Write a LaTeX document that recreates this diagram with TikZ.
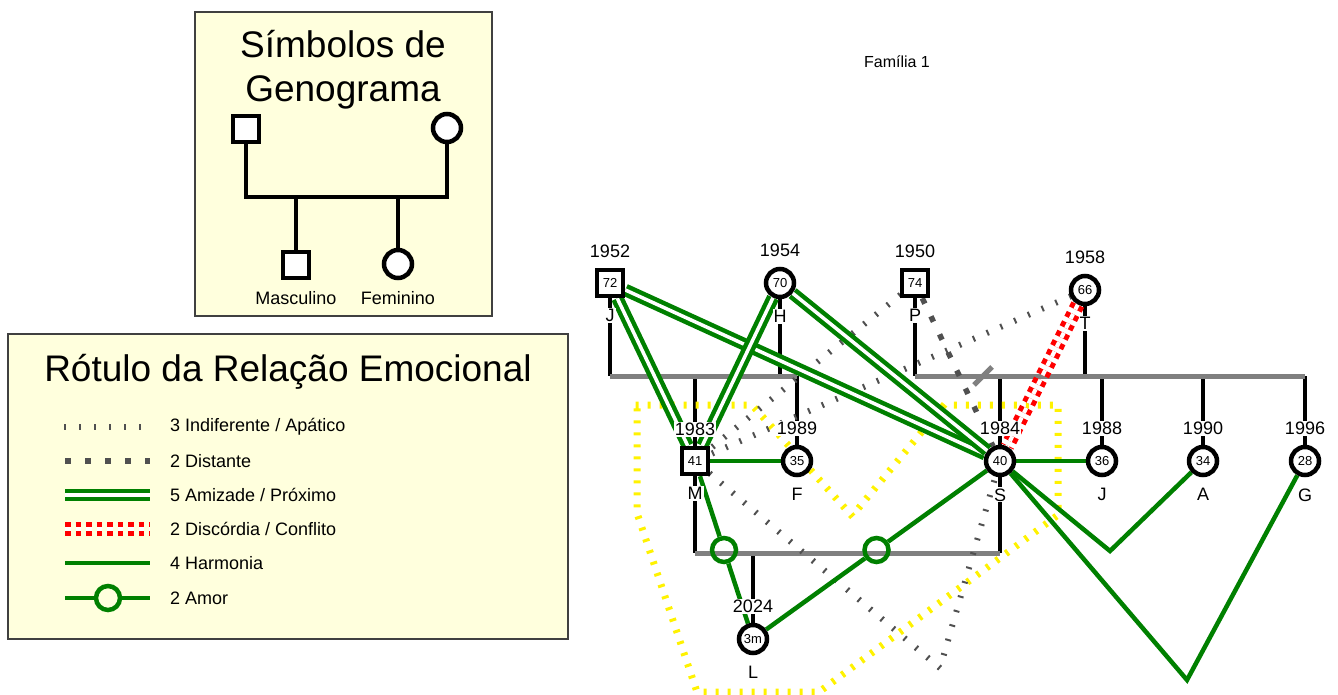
\documentclass[tikz,border=0pt]{standalone}
\usepackage{fontspec}
\setmainfont{Liberation Sans}
\usepackage{tikz}
\usetikzlibrary{positioning,calc,decorations.pathreplacing,backgrounds}

\definecolor{paper}{RGB}{255,255,221}
\definecolor{leaf}{RGB}{0,128,0}
\definecolor{ash}{RGB}{128,128,128}
\definecolor{slate}{RGB}{80,80,80}

\begin{document}
\begin{tikzpicture}[x=1pt, y=-1pt,
    man/.style={draw, line width=4.5pt, fill=white, minimum size=26pt, inner sep=0pt,
      font=\fontsize{13}{13}\selectfont},
    woman/.style={man, circle, minimum size=28pt},
    txt/.style={inner sep=1pt, font=\fontsize{18}{18}\selectfont},
    tag/.style={txt, fill=white},
    big/.style={font=\fontsize{37}{44}\selectfont, align=center},
    keytxt/.style={txt, anchor=west, inner sep=0pt},
    board/.style={draw=black!75, line width=1.5pt, fill=paper},
    kin/.style={line width=4.5pt},
    wed/.style={line width=5pt, draw=ash},
    harm/.style={line width=4.5pt, draw=leaf},
    close/.style={harm, double=white, double distance=3.5pt},
    ring/.style={circle, draw=leaf, line width=4.5pt, minimum size=24pt, inner sep=0pt},
    foe/.style={draw=red, line width=5pt, double=white, double distance=4pt,
      dash pattern=on 5.5pt off 5pt},
    far/.style={draw=slate, line width=5.5pt, dash pattern=on 6pt off 14pt},
    cold/.style={draw=slate, line width=2pt, decorate,
      decoration={ticks, segment length=15pt, amplitude=3pt}},
    home/.style={draw=yellow, line width=3pt, decorate,
      decoration={ticks, segment length=12pt, amplitude=3.5pt}},
  ]
  \useasboundingbox (0,0) rectangle (1338,695);

  % symbol key
  \draw[board] (195,12) rectangle (492,316);
  \node[big] (symtitle) at (343,70) {Símbolos de\\Genograma};
  \node[man] (kman) at (246,129) {};
  \node[woman] (kwoman) at (447,128) {};
  \node[man] (kson) at (296,265) {};
  \node[woman] (kdau) at (398,264) {};
  \coordinate (kbar) at (0,197);
  \draw[kin] (kman) -- (kman |- kbar) -| (kwoman);
  \draw[kin] (kson) -- (kson |- kbar);
  \draw[kin] (kdau) -- (kdau |- kbar);
  \node[txt] (kmasc) at (296,298) {Masculino};
  \node[txt] (kfem) at (398,298) {Feminino};

  % relation key
  \draw[board] (8,334) rectangle (568,639);
  \node[big] (keytitle) at (288,372) {Rótulo da Relação Emocional};
  \node[keytxt] (k1) at (170,427) {3 Indiferente / Apático};
  \node[keytxt] (k2) at (170,461) {2 Distante};
  \node[keytxt] (k3) at (170,495) {5 Amizade / Próximo};
  \node[keytxt] (k4) at (170,529) {2 Discórdia / Conflito};
  \node[keytxt] (k5) at (170,563) {4 Harmonia};
  \node[keytxt] (k6) at (170,598) {2 Amor};
  \node[ring] (kring) at (108,598) {};
  \draw[cold] ([xshift=-105pt]k1.west) -- ([xshift=-20pt]k1.west);
  \draw[far] ([xshift=-105pt]k2.west) -- ([xshift=-20pt]k2.west);
  \draw[close] ([xshift=-105pt]k3.west) -- ([xshift=-20pt]k3.west);
  \draw[foe] ([xshift=-105pt]k4.west) -- ([xshift=-20pt]k4.west);
  \draw[harm] ([xshift=-105pt]k5.west) -- ([xshift=-20pt]k5.west);
  \draw[harm] ([xshift=-105pt]k6.west) -- (kring) -- ([xshift=-20pt]k6.west);

  % family
  \node[txt, font=\fontsize{16}{16}\selectfont] (fam) at (897,62) {Família 1};

  \node[man] (j) at (610,283) {72};
  \node[woman] (h) at (780,283) {70};
  \node[man] (p) at (915,283) {74};
  \node[woman] (t) at (1085,290) {66};

  \node[man] (m) at (695,461) {41};
  \node[woman] (f) at (797,461) {35};
  \node[woman] (s) at (1000,461) {40};
  \node[woman] (jd) at (1102,461) {36};
  \node[woman] (a) at (1203,461) {34};
  \node[woman] (g) at (1305,461) {28};
  \node[woman] (l) at (753,639) {3m};

  \node[tag, above=9pt of j] (jyr) {1952};
  \node[tag, above=9pt of h] (hyr) {1954};
  \node[tag, above=9pt of p] (pyr) {1950};
  \node[tag, above=9pt of t] (tyr) {1958};
  \node[tag, above=9pt of m] (myr) {1983};
  \node[tag, above=9pt of f] (fyr) {1989};
  \node[tag, above=9pt of s] (syr) {1984};
  \node[tag, above=9pt of jd] (jdyr) {1988};
  \node[tag, above=9pt of a] (ayr) {1990};
  \node[tag, above=9pt of g] (gyr) {1996};
  \node[tag, above=9pt of l] (lyr) {2024};

  \node[tag, below=10pt of j] (jnm) {J};
  \node[tag, below=10pt of h] (hnm) {H};
  \node[tag, below=10pt of p] (pnm) {P};
  \node[tag, below=10pt of t] (tnm) {T};
  \node[tag, below=10pt of m] (mnm) {M};
  \node[tag, below=10pt of f] (fnm) {F};
  \node[tag, below=10pt of s] (snm) {S};
  \node[tag, below=10pt of jd] (jdnm) {J};
  \node[tag, below=10pt of a] (anm) {A};
  \node[tag, below=10pt of g] (gnm) {G};
  \node[tag, below=10pt of l] (lnm) {L};

  \node[ring] (mlring) at ($(m)!0.5!(l)$) {};
  \node[ring] (slring) at ($(s)!0.5!(l)$) {};

  \coordinate (row1) at (0,376);
  \coordinate (row2) at (0,553);
  \coordinate (split) at (983,376);
  \coordinate (sabend) at (1110,551);
  \coordinate (sgbend) at (1187,680);
  \coordinate (msbend) at (940,668);

  \begin{scope}[on background layer]
    \draw[kin] (j) -- (j |- row1);
    \draw[kin] (h) -- (h |- row1);
    \draw[kin] (p) -- (p |- row1);
    \draw[kin] (t) -- (t |- row1);
    \draw[kin] (m) -- (m |- row1);
    \draw[kin] (f) -- (f |- row1);
    \draw[kin] (s) -- (s |- row1);
    \draw[kin] (jd) -- (jd |- row1);
    \draw[kin] (a) -- (a |- row1);
    \draw[kin] (g) -- (g |- row1);
    \draw[kin] (m) -- (m |- row2);
    \draw[kin] (s) -- (s |- row2);
    \draw[kin] (l) -- (l |- row2);
    \draw[wed] (j |- row1) -- (f |- row1);
    \draw[wed] (p |- row1) -- (g |- row1);
    \draw[wed] (m |- row2) -- (s |- row2);
    \draw[wed] ([shift={(-9,9)}]split) -- ([shift={(9,-9)}]split);

    \draw[home] (637,405) -- (752,405) -- (852,516) -- (944,405) -- (1058,405)
      -- (1058,515) -- (819,692) -- (697,692) -- (637,513) -- cycle;

    \draw[cold] (t) -- (m);
    \draw[cold] (p) -- (m);
    \draw[cold] (m) -- (msbend) -- (s);
    \draw[far] (p) -- (s);
    \draw[foe] (t) -- (s);

    \draw[close] (j) -- (m);
    \draw[close] (j) -- (s);
    \draw[close] (h) -- (m);
    \draw[close] (h) -- (s);
    \draw[harm] (m) -- (f);
    \draw[harm] (s) -- (jd);
    \draw[harm] (s) -- (sabend) -- (a);
    \draw[harm] (s) -- (sgbend) -- (g);
    \draw[harm] (m) -- (mlring) -- (l);
    \draw[harm] (s) -- (slring) -- (l);
  \end{scope}
\end{tikzpicture}
\end{document}
